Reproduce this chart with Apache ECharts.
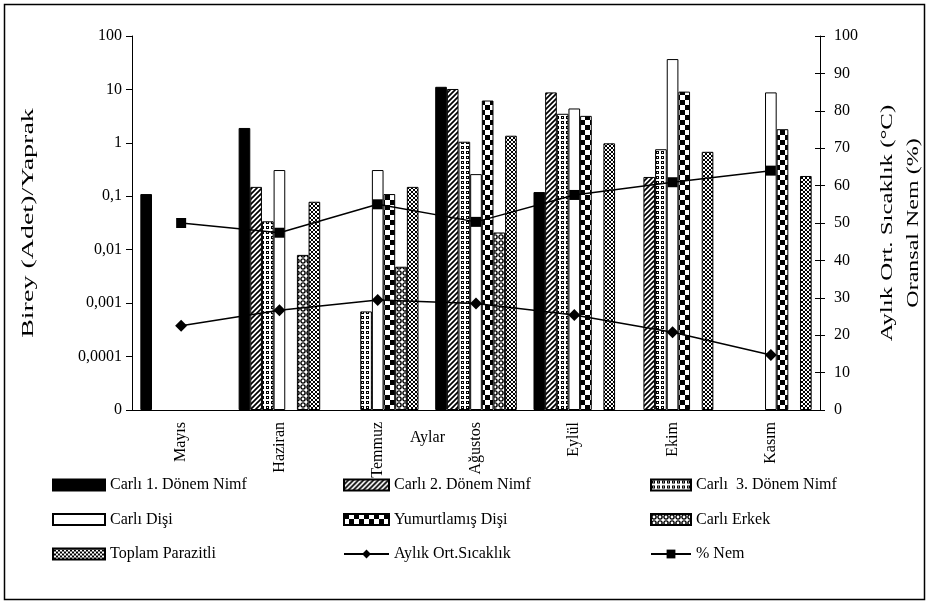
<!DOCTYPE html>
<html><head><meta charset="utf-8">
<script src="https://cdn.jsdelivr.net/npm/echarts@6/dist/echarts.min.js"></script>
<style>html,body{margin:0;padding:0;background:#fff}#c{width:933px;height:604px}</style>
</head><body><div id="c"></div>
<script>
// ---- data ----
const months = ['Mayıs','Haziran','Temmuz','Ağustos','Eylül','Ekim','Kasım'];
const nimf1 = [0.11, 1.9, '-', 11.2, 0.12, '-', '-'];
const nimf2 = ['-', 0.15, '-', 10.2, 8.8, 0.23, '-'];
const nimf3 = ['-', 0.034, 0.0007, 1.05, 3.5, 0.76, '-'];
const disi = ['-', 0.31, 0.31, 0.26, 4.4, 37, 8.8];
const yumurtlamis = ['-', '-', 0.11, 6.2, 3.2, 9.1, 1.8];
const erkek = ['-', 0.008, 0.0048, 0.021, '-', '-', '-'];
const toplam = ['-', 0.079, 0.15, 1.36, 0.98, 0.68, 0.24];
const sicaklik = [22.5, 26.7, 29.4, 28.5, 25.4, 20.8, 14.7];
const nem = [50, 47.4, 55, 50.3, 57.5, 60.9, 64];
const leftTickLabels = ['0','0,0001','0,001','0,01','0,1','1','10','100'];
const names = ['Carlı 1. Dönem Nimf','Carlı 2. Dönem Nimf','Carlı  3. Dönem Nimf','Carlı Dişi','Yumurtlamış Dişi','Carlı Erkek','Toplam Parazitli','Aylık Ort.Sıcaklık','% Nem'];
const leftTitle = 'Birey (Adet)/Yaprak';
const rightTitle1 = 'Aylık Ort. Sıcaklık (°C)';
const rightTitle2 = 'Oransal Nem (%)';
const xTitle = 'Aylar';

// ---- patterns ----
function pat(w, h, draw) {
  const c = document.createElement('canvas'); c.width = w; c.height = h;
  const g = c.getContext('2d');
  g.fillStyle = '#fff'; g.fillRect(0, 0, w, h);
  g.fillStyle = '#000'; g.strokeStyle = '#000';
  draw(g);
  return { image: c, repeat: 'repeat' };
}
const pSolid = '#000';
const pHatch = pat(5, 5, g => {
  g.lineWidth = 1.7;
  g.beginPath();
  g.moveTo(-1, 6); g.lineTo(6, -1);
  g.moveTo(-1, 1); g.lineTo(1, -1);
  g.moveTo(4, 6); g.lineTo(6, 4);
  g.stroke();
});
const pDots = pat(5, 5, g => { g.lineWidth = 1; g.strokeRect(1.5, 1.5, 2, 2); });
const pWhite = '#fff';
const pChecker = pat(10, 10, g => { g.fillRect(0, 0, 5, 5); g.fillRect(5, 5, 5, 5); });
const pRings = pat(6, 6, g => {
  g.lineWidth = 1.4;
  g.beginPath(); g.arc(3, 3, 2.1, 0, Math.PI * 2); g.stroke();
});
const pCross = pat(4, 4, g => {
  g.lineWidth = 1;
  g.beginPath();
  g.moveTo(0, 0); g.lineTo(4, 4);
  g.moveTo(4, 0); g.lineTo(0, 4);
  g.stroke();
});

const font = 'Liberation Serif';
const txt = { fontFamily: font, fontSize: 16, color: '#000' };

function bar(name, data, color) {
  return {
    name, type: 'bar', data, barGap: '0%', barCategoryGap: '17%',
    itemStyle: { color, borderColor: '#000', borderWidth: 1 },
    emphasis: { disabled: true }, animation: false
  };
}
function line(name, data, symbol, size) {
  return {
    name, type: 'line', yAxisIndex: 1, data, symbol, symbolSize: size,
    lineStyle: { color: '#000', width: 1.5 },
    itemStyle: { color: '#000' }, z: 5, animation: false
  };
}
const lineNames = [names[7], names[8]];
function legend(left, items, iw) {
  return {
    orient: 'vertical', left, top: 477, itemGap: 18.5,
    itemWidth: iw, itemHeight: 11, textStyle: txt,
    data: items.map(n => lineNames.includes(n) ? { name: n } : { name: n, icon: 'rect' }),
    selectedMode: false, padding: 0
  };
}
function vtext(x, y, text, sx) {
  return {
    type: 'text', x, y, rotation: Math.PI / 2, scaleX: sx, silent: true,
    style: { text, font: '16px "Liberation Serif"', fill: '#000', align: 'center', verticalAlign: 'middle' }
  };
}

const chart = echarts.init(document.getElementById('c'), null, { renderer: 'canvas' });
chart.setOption({
  backgroundColor: '#fff',
  animation: false,
  grid: { left: 132, right: 113, top: 36, bottom: 194 },
  xAxis: {
    type: 'category', data: months,
    axisLine: { lineStyle: { color: '#000', width: 1 } },
    axisTick: { length: 6, lineStyle: { color: '#000' } },
    axisLabel: { rotate: 90, margin: 12, ...txt }
  },
  yAxis: [
    {
      type: 'log', logBase: 10, min: 0.00001, max: 100, startValue: 0.00001,
      axisLine: { show: true, lineStyle: { color: '#000' } },
      axisTick: { show: true, length: 6, lineStyle: { color: '#000' } },
      axisLabel: { ...txt, margin: 10, formatter: v => leftTickLabels[Math.round(Math.log10(v)) + 5] },
      splitLine: { show: false }
    },
    {
      type: 'value', min: 0, max: 100, interval: 10, position: 'right',
      axisLine: { show: true, lineStyle: { color: '#000' } },
      axisTick: { show: true, length: 5, lineStyle: { color: '#000' } },
      axisLabel: { ...txt, margin: 14 },
      splitLine: { show: false }
    },
    {
      type: 'value', min: 0, max: 100, interval: 10, position: 'right',
      axisLine: { show: false },
      axisTick: { show: true, inside: true, length: 5, lineStyle: { color: '#000' } },
      axisLabel: { show: false }, splitLine: { show: false }
    }
  ],
  legend: [
    legend(52, [names[0], names[3], names[6]], 52),
    legend(343, [names[1], names[4], names[7]], 45),
    legend(650, [names[2], names[5], names[8]], 40)
  ],
  series: [
    bar(names[0], nimf1, pSolid),
    bar(names[1], nimf2, pHatch),
    bar(names[2], nimf3, pDots),
    bar(names[3], disi, pWhite),
    bar(names[4], yumurtlamis, pChecker),
    bar(names[5], erkek, pRings),
    bar(names[6], toplam, pCross),
    line(names[7], sicaklik, 'diamond', 12),
    line(names[8], nem, 'rect', 10)
  ],
  graphic: [
    { type: 'rect', shape: { x: 4.5, y: 4.5, width: 920, height: 595 }, style: { fill: null, stroke: '#000', lineWidth: 1.5 }, silent: true },
    { type: 'text', left: 410, top: 430, silent: true, style: { text: xTitle, font: '16px "Liberation Serif"', fill: '#000' } },
    vtext(29, 223, leftTitle, 1.75),
    vtext(888, 223, rightTitle1, 1.55),
    vtext(914, 223, rightTitle2, 1.5)
  ]
});
</script>
</body></html>
